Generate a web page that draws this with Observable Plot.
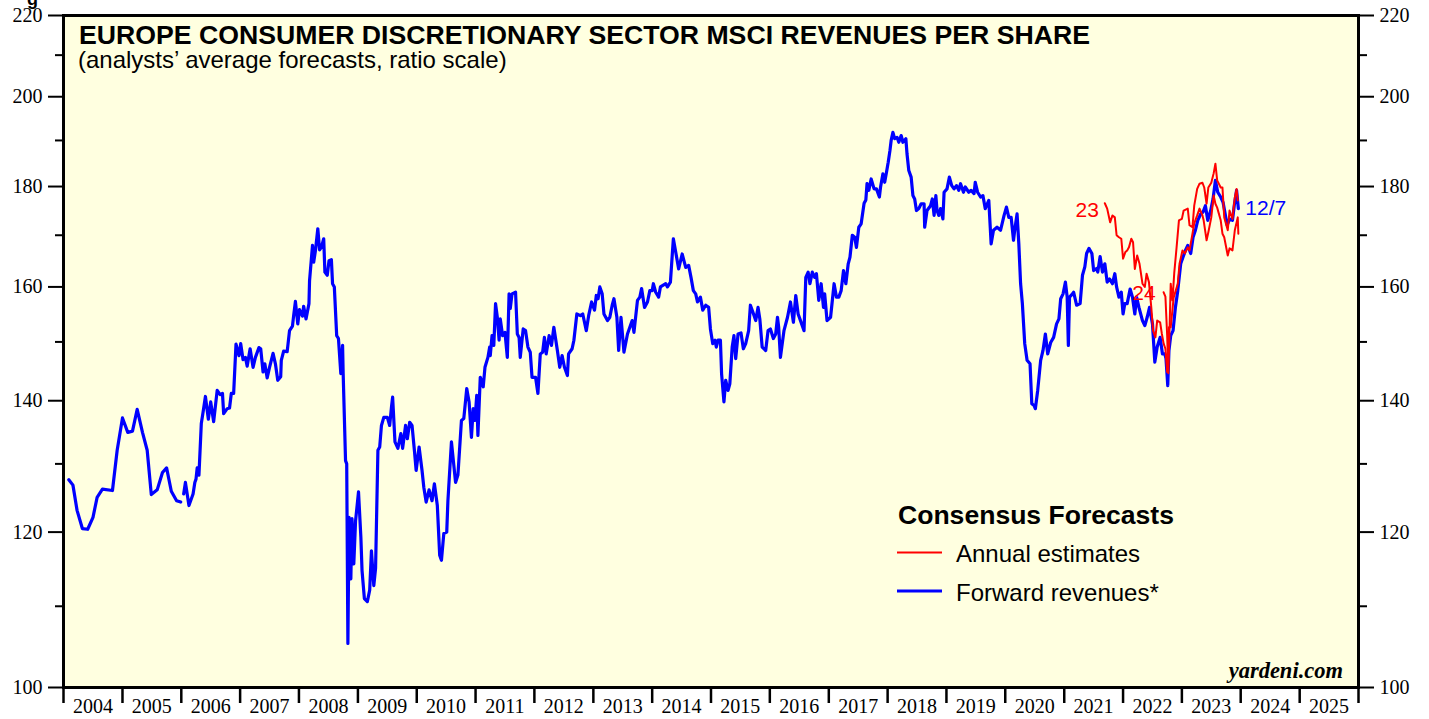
<!DOCTYPE html>
<html><head><meta charset="utf-8">
<script src="https://cdn.jsdelivr.net/npm/d3@7"></script>
<script src="https://cdn.jsdelivr.net/npm/@observablehq/plot@0.6"></script>
<style>
html,body{margin:0;padding:0;background:#fff;}
#wrap{position:relative;width:1429px;height:719px;overflow:hidden;}
</style></head><body><div id="wrap"></div>
<script>
// Forward revenues (blue), decimal years and values
const fwdDates = [2004.09,2004.16,2004.23,2004.32,2004.41,2004.50,2004.57,2004.66,2004.83,2004.91,
2005.00,2005.09,2005.17,2005.25,2005.34,2005.42,2005.49,2005.59,2005.68,2005.75,2005.83,2005.92,2005.99,
2006.01,
2006.04,2006.07,2006.13,2006.20,2006.23,2006.25,2006.27,2006.30,2006.34,2006.37,2006.41,2006.46,2006.50,2006.55,2006.61,2006.66,2006.70,2006.72,2006.78,2006.82,2006.85,2006.89,2006.93,2006.98,
2007.01,2007.05,2007.09,2007.12,2007.17,2007.22,2007.26,2007.32,2007.35,2007.39,2007.42,2007.46,2007.50,2007.56,2007.60,2007.64,2007.69,2007.70,2007.74,2007.80,2007.84,2007.89,2007.91,2007.94,2007.98,
2008.01,2008.06,2008.08,2008.12,2008.17,2008.18,2008.23,2008.25,2008.28,2008.32,2008.35,2008.38,2008.42,2008.44,2008.48,2008.51,2008.55,2008.57,2008.60,2008.64,2008.67,2008.71,2008.74,2008.75,2008.79,2008.81,2008.83,2008.85,2008.88,2008.90,2008.93,2008.96,
2009.01,2009.05,2009.07,2009.11,2009.16,2009.20,2009.23,2009.27,2009.30,2009.34,2009.37,2009.40,2009.44,2009.50,2009.54,2009.57,2009.59,2009.63,2009.68,2009.73,2009.76,2009.81,2009.84,2009.88,2009.92,2009.96,2009.99,
2010.04,2010.09,2010.12,2010.16,2010.21,2010.26,2010.30,2010.35,2010.39,2010.42,2010.46,2010.51,2010.53,2010.59,2010.66,2010.70,2010.76,2010.80,2010.85,2010.89,2010.93,2010.96,2010.99,
2011.02,2011.04,2011.08,2011.13,2011.16,2011.21,2011.24,2011.25,2011.28,2011.31,2011.34,2011.37,2011.40,2011.42,2011.46,2011.50,2011.54,2011.57,2011.59,2011.62,2011.68,2011.71,2011.74,2011.76,2011.81,2011.85,2011.89,2011.93,2011.96,
2012.02,2012.06,2012.10,2012.14,2012.17,2012.20,2012.25,2012.29,2012.33,2012.39,2012.43,2012.47,2012.51,2012.56,2012.58,2012.64,2012.67,2012.72,2012.78,2012.82,2012.88,2012.92,2012.97,
2013.02,2013.05,2013.08,2013.11,2013.15,2013.18,2013.24,2013.28,2013.32,2013.35,2013.40,2013.43,2013.47,2013.52,2013.58,2013.62,2013.66,2013.69,2013.75,2013.79,2013.82,2013.87,2013.92,2013.96,
2014.00,2014.02,2014.06,2014.11,2014.14,2014.23,2014.26,2014.31,2014.36,2014.40,2014.45,2014.51,2014.57,2014.62,2014.66,2014.70,2014.74,2014.77,2014.82,2014.86,2014.91,2014.96,2014.99,
2015.03,2015.07,2015.09,2015.12,2015.16,2015.18,2015.22,2015.25,2015.29,2015.32,2015.36,2015.39,2015.42,2015.46,2015.51,2015.55,2015.59,2015.64,2015.67,2015.71,2015.76,2015.80,2015.83,2015.87,2015.93,2015.97,
2016.01,2016.06,2016.10,2016.13,2016.15,2016.18,2016.24,2016.30,2016.35,2016.40,2016.44,2016.48,2016.52,2016.55,2016.58,2016.61,2016.65,2016.68,2016.72,2016.76,2016.79,2016.83,2016.87,2016.91,2016.93,2016.97,
2017.03,2017.09,2017.13,2017.17,2017.21,2017.25,2017.29,2017.33,2017.36,2017.40,2017.44,2017.47,2017.51,2017.55,2017.60,2017.63,2017.65,2017.68,2017.72,2017.77,2017.81,2017.86,2017.88,2017.92,2017.95,2017.98,
2018.01,2018.04,2018.06,2018.09,2018.12,2018.16,2018.19,2018.23,2018.26,2018.31,2018.33,2018.36,2018.40,2018.43,2018.46,2018.49,2018.53,2018.57,2018.62,2018.63,2018.67,2018.73,2018.76,2018.79,2018.82,2018.84,2018.87,2018.90,2018.94,2018.96,
2019.01,2019.05,2019.09,2019.13,2019.17,2019.21,2019.24,2019.29,2019.32,2019.38,2019.42,2019.47,2019.49,2019.53,2019.58,2019.62,2019.66,2019.72,2019.76,2019.80,2019.86,2019.92,2019.98,
2020.02,2020.06,2020.10,2020.14,2020.16,2020.20,2020.23,2020.26,2020.29,2020.33,2020.37,2020.42,2020.45,2020.49,2020.51,2020.55,2020.60,2020.64,2020.68,2020.72,2020.77,2020.82,2020.87,2020.91,2020.94,2020.98,
2021.02,2021.05,2021.07,2021.09,2021.14,2021.16,2021.21,2021.27,2021.31,2021.35,2021.38,2021.42,2021.47,2021.50,2021.55,2021.57,2021.61,2021.65,2021.69,2021.73,2021.77,2021.82,2021.86,2021.89,2021.93,2021.97,
2022.00,2022.03,2022.07,2022.12,2022.16,2022.20,2022.23,2022.27,2022.33,2022.37,2022.41,2022.45,2022.50,2022.54,2022.58,2022.63,2022.67,2022.71,2022.73,2022.76,2022.78,2022.81,2022.85,2022.89,2022.93,2022.98,
2023.02,2023.06,2023.10,2023.15,2023.19,2023.23,2023.27,2023.32,2023.36,2023.40,2023.44,2023.49,2023.53,2023.57,2023.61,2023.66,2023.70,2023.73,2023.77,2023.81,2023.86,2023.89,2023.93,2023.96];
const fwdValues = [127.6,126.8,123.1,120.5,120.4,122.1,125.0,126.2,126.0,132.1,
137.2,134.9,135.1,138.6,134.9,132.1,125.4,126.1,128.7,129.4,125.9,124.5,124.3,
null,
125.5,127.2,123.8,125.5,127.2,127.7,129.4,128.3,136.3,138.1,140.7,137.0,139.8,136.6,141.7,141.0,141.2,137.9,138.7,138.8,141.2,141.2,149.6,147.6,
149.7,146.9,147.3,145.8,148.8,145.6,147.3,149.0,148.8,144.8,146.2,143.8,145.6,148.0,146.2,143.4,144.0,146.8,148.4,148.3,152.0,152.8,154.7,157.3,153.2,
155.8,154.6,156.4,154.1,156.9,161.2,168.0,164.7,167.0,171.3,167.1,167.6,169.3,162.8,162.2,165.0,165.2,160.6,160.0,151.1,150.6,144.5,149.4,144.5,130.5,130.0,105.3,122.1,113.6,121.9,115.6,121.6,
125.8,119.3,114.7,111.0,110.6,112.1,117.4,112.7,115.0,132.1,132.6,136.0,137.3,137.3,136.0,138.9,140.6,133.4,132.4,134.7,132.4,136.0,133.9,136.5,136.0,132.1,129.0,
132.6,129.0,126.5,124.3,126.1,124.5,127.0,123.8,116.8,116.1,119.8,120.0,124.5,133.4,127.2,128.3,136.8,137.1,142.0,139.8,134.1,138.7,136.8,
140.9,134.4,143.9,142.3,145.6,147.3,149.1,147.6,151.1,149.4,156.9,154.4,150.3,154.1,151.1,151.7,147.3,158.7,156.0,158.7,159.0,151.4,150.8,147.3,152.3,152.0,149.1,148.2,143.9,
143.9,141.2,147.9,148.2,150.8,147.9,151.1,149.4,152.6,148.5,145.6,147.6,145.6,144.2,147.9,148.8,150.3,155.0,154.7,155.0,152.0,154.7,157.2,
155.7,158.4,157.8,160.0,158.7,155.0,153.8,154.4,156.6,157.8,154.4,148.5,154.4,148.2,151.4,152.6,153.8,151.7,157.5,158.1,159.7,156.2,157.2,159.3,
159.3,160.6,159.0,158.1,160.0,160.6,160.0,160.9,169.3,166.7,163.4,166.3,163.7,164.1,161.8,159.3,158.7,157.2,158.1,155.7,156.6,156.2,152.3,
149.7,150.3,149.1,150.3,150.3,144.5,139.8,143.4,141.7,142.8,149.1,151.1,147.1,151.4,151.6,148.8,149.7,152.0,156.6,155.4,153.8,156.2,154.1,149.1,148.5,152.0,
152.3,150.6,151.4,154.4,152.6,147.3,152.0,154.4,157.2,153.5,158.4,155.0,153.8,152.9,152.0,161.8,162.8,160.6,162.8,161.8,162.5,157.5,160.6,156.2,158.7,153.8,
154.4,160.6,158.1,158.1,159.3,163.1,160.6,164.4,165.7,170.0,169.6,167.6,171.6,172.3,176.5,177.2,180.6,179.2,181.6,179.5,179.5,177.8,179.9,182.7,180.9,183.0,
185.2,187.8,190.0,191.8,190.4,190.7,189.6,191.1,189.6,190.4,187.0,183.4,182.0,178.1,177.4,175.0,175.4,176.4,176.4,171.6,175.0,176.0,177.4,174.0,178.1,175.0,174.0,175.4,173.3,178.8,
179.5,182.0,180.2,179.5,180.2,179.2,180.6,178.8,179.9,178.8,179.2,178.5,180.9,178.8,177.8,178.1,175.4,177.1,168.3,171.0,171.6,171.0,174.0,
175.7,173.6,173.6,169.0,171.0,174.3,168.3,160.6,156.9,149.7,146.8,146.2,139.5,139.2,138.7,141.7,146.8,148.5,151.4,147.9,149.9,150.8,153.2,154.1,157.8,158.7,
160.9,158.1,149.4,158.1,158.7,159.0,156.6,156.9,162.2,163.8,166.4,167.4,166.4,163.1,163.5,162.8,165.8,162.8,164.4,160.9,161.5,160.6,162.5,160.0,158.1,159.0,
155.0,156.9,156.9,159.6,158.1,155.0,158.1,156.2,153.8,152.9,154.4,156.2,153.2,146.5,149.1,150.8,147.9,147.9,147.1,142.5,148.5,151.1,152.0,156.2,159.3,164.4,
165.7,167.0,168.0,166.4,169.6,171.0,173.0,174.3,174.7,176.0,173.0,175.0,177.4,181.3,178.8,177.8,176.7,174.7,172.0,173.3,173.0,176.0,179.2,175.4];

// Annual estimates (red)
const est23Dates = [2021.69,2021.73,2021.78,2021.82,2021.86,2021.89,2021.93,2021.97,2022.00,2022.04,2022.07,2022.10,2022.14,2022.17,2022.20,2022.24,2022.28,2022.33,2022.37,2022.40,2022.44,2022.48,2022.51,2022.55,2022.58,2022.63,2022.66,2022.69,2022.72,2022.75,2022.78,2022.81,2022.86,2022.93,2022.96,2023.01,2023.05,2023.10,2023.13,2023.18,2023.21,2023.26,2023.30,2023.35,2023.37,2023.42,2023.45,2023.50,2023.54,2023.57,2023.60,2023.66,2023.69,2023.72,2023.78,2023.81,2023.86,2023.90,2023.95,2023.96];
const est23Values = [176.5,175.4,172.6,174.0,173.6,170.0,169.6,169.3,165.4,166.7,167.0,167.6,169.3,168.6,163.4,166.0,164.4,160.6,160.0,162.5,160.9,156.2,152.0,150.8,153.8,153.5,151.4,149.7,148.8,144.8,152.6,152.6,158.0,160.6,164.4,167.0,166.4,167.6,167.0,170.3,172.4,174.0,175.4,174.0,173.0,169.0,170.6,173.6,178.1,176.4,175.6,173.0,170.3,169.6,166.0,167.4,167.0,171.0,173.6,170.3];
const est24Dates = [2022.69,2022.72,2022.75,2022.77,2022.79,2022.81,2022.84,2022.87,2022.91,2022.95,2023.00,2023.03,2023.10,2023.13,2023.18,2023.21,2023.26,2023.30,2023.35,2023.38,2023.42,2023.45,2023.50,2023.54,2023.57,2023.60,2023.66,2023.69,2023.72,2023.78,2023.81,2023.86,2023.90,2023.93,2023.95];
const est24Values = [159.0,158.2,151.1,144.6,152.0,160.6,157.5,162.6,167.6,173.0,173.3,175.0,175.4,172.0,171.6,176.0,179.5,180.6,180.8,179.8,176.4,179.8,180.8,182.8,184.9,181.3,179.8,179.8,173.6,171.0,175.0,173.3,177.7,179.5,177.1];

const years = [2004,2005,2006,2007,2008,2009,2010,2011,2012,2013,2014,2015,2016,2017,2018,2019,2020,2021,2022,2023,2024,2025];
const yTicksMajor = [100,120,140,160,180,200,220];
const yTicksMinor = [110,130,150,170,190,210];

const titleText = "EUROPE CONSUMER DISCRETIONARY SECTOR MSCI REVENUES PER SHARE";
const subtitleText = "(analysts\u2019 average forecasts, ratio scale)";
const legendTitle = "Consensus Forecasts";
const legendItems = ["Annual estimates", "Forward revenues*"];
const endLabel = "12/7";
const cutHeading = "g";

function decYear(t) {
  const y = Math.floor(t);
  const s = Date.UTC(y, 0, 1), e = Date.UTC(y + 1, 0, 1);
  return new Date(s + (t - y) * (e - s));
}
const fwd = fwdDates.map((d, i) => ({date: decYear(d), value: fwdValues[i]}));
const e23 = est23Dates.map((d, i) => ({date: decYear(d), value: est23Values[i]}));
const e24 = est24Dates.map((d, i) => ({date: decYear(d), value: est24Values[i]}));
const yearStarts = years.concat([2026]).map(y => new Date(Date.UTC(y, 0, 1)));
const yearMids = years.map(y => new Date(Date.UTC(y, 6, 2)));

const serif = "'Liberation Serif', 'Times New Roman', serif";
const sans = "'Liberation Sans', Arial, sans-serif";

const chart = Plot.plot({
  width: 1429, height: 719,
  marginLeft: 63, marginRight: 71, marginTop: 15, marginBottom: 32,
  style: {background: "white", fontFamily: serif, fontSize: "20px", color: "black"},
  x: {type: "utc", domain: [new Date(Date.UTC(2004,0,1)), new Date(Date.UTC(2026,0,1))]},
  y: {type: "log", domain: [100, 220]},
  marks: [
    Plot.frame({fill: "#ffffe0", stroke: "none"}),
    Plot.line(fwd, {x: "date", y: "value", stroke: "#0000ff", strokeWidth: 3.2, curve: "linear"}),
    Plot.line(e23, {x: "date", y: "value", stroke: "#ff0000", strokeWidth: 2}),
    Plot.line(e24, {x: "date", y: "value", stroke: "#ff0000", strokeWidth: 2}),
    Plot.text([e23[0]], {x: "date", y: "value", text: () => "23", fill: "#ff0000", textAnchor: "end", dx: -6, dy: 7, fontFamily: sans, fontSize: 21}),
    Plot.text([e24[0]], {x: "date", y: "value", text: () => "24", fill: "#ff0000", textAnchor: "end", dx: -8, dy: 1, fontFamily: sans, fontSize: 21}),
    Plot.text([fwd[fwd.length - 1]], {x: "date", y: "value", text: () => endLabel, fill: "#0000ff", textAnchor: "start", dx: 7, dy: 0, fontFamily: sans, fontSize: 21}),
    Plot.axisY(yTicksMajor, {anchor: "left", tickSize: 15, tickPadding: 6, strokeWidth: 2, tickFormat: d => String(d), fontSize: 20, fontFamily: serif, label: null}),
    Plot.axisY(yTicksMinor, {anchor: "left", tickSize: 8, strokeWidth: 2, tickFormat: () => "", label: null}),
    Plot.axisY(yTicksMajor, {anchor: "right", tickSize: 15, tickPadding: 6, strokeWidth: 2, tickFormat: d => String(d), fontSize: 20, fontFamily: serif, label: null}),
    Plot.axisY(yTicksMinor, {anchor: "right", tickSize: 8, strokeWidth: 2, tickFormat: () => "", label: null}),
    Plot.axisX(yearStarts, {anchor: "bottom", tickSize: 16, strokeWidth: 2.5, tickFormat: () => "", label: null}),
    Plot.axisX(yearMids, {anchor: "bottom", tickSize: 0, tickPadding: 11, tickFormat: d => String(d.getUTCFullYear()), fontSize: 20, fontFamily: serif, label: null}),
    Plot.frame({stroke: "black", strokeWidth: 3})
  ]
});
document.getElementById("wrap").appendChild(chart);

const svg = d3.select(chart);
const g = svg.append("g").attr("text-anchor", "start");
function addText(str, x, y, opts) {
  const t = g.append("text").attr("x", x).attr("y", y)
    .attr("text-anchor", opts.anchor || "start")
    .attr("font-family", opts.family || sans)
    .attr("font-size", opts.size)
    .attr("fill", "black")
    .text(str);
  if (opts.bold) t.attr("font-weight", "bold");
  if (opts.italic) t.attr("font-style", "italic");
  if (opts.len) t.attr("textLength", opts.len).attr("lengthAdjust", "spacingAndGlyphs");
  return t;
}
addText(cutHeading, 27, 5, {size: 18, bold: true});
addText(titleText, 79, 43.5, {size: 25.5, bold: true, len: 1011});
addText(subtitleText, 78, 68, {size: 24});
addText(legendTitle, 898, 523.5, {size: 25, bold: true, len: 276});
g.append("line").attr("x1", 897).attr("x2", 942).attr("y1", 552.5).attr("y2", 552.5).attr("stroke", "#ff0000").attr("stroke-width", 1.8);
addText(legendItems[0], 956, 561.5, {size: 24});
g.append("line").attr("x1", 897).attr("x2", 942).attr("y1", 591).attr("y2", 591).attr("stroke", "#0000ff").attr("stroke-width", 3.2);
addText(legendItems[1], 956, 601, {size: 24});
addText("yardeni.com", 1343, 678, {size: 22.5, bold: true, italic: true, family: serif, anchor: "end"});
</script></body></html>
